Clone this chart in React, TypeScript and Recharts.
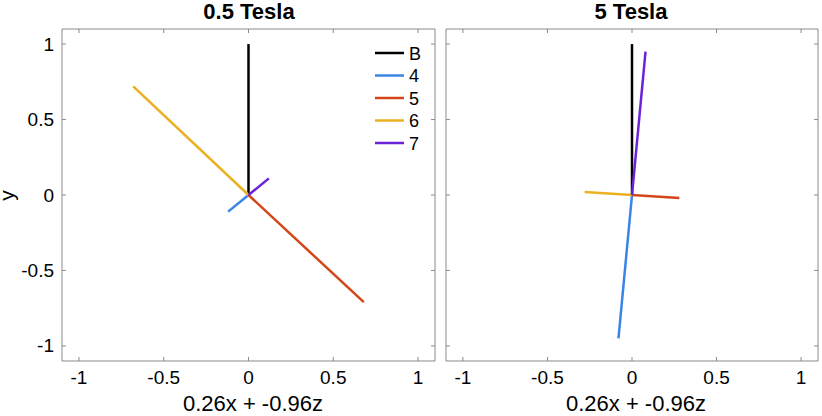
import React from "react";
import { LineChart, Line, XAxis, YAxis, Legend } from "recharts";

// axis ticks and ranges
const axisTicks = [-1, -0.5, 0, 0.5, 1];
const axisDomain: [number, number] = [-1.1, 1.1];

// series (vector end points, every vector starts at the origin)
const seriesNames = ["B", "4", "5", "6", "7"];
const seriesColors = ["#000000", "#3a84e6", "#d4461a", "#ebb120", "#6b22d8"];
const lowFieldX = [0, -0.12, 0.68, -0.68, 0.12];
const lowFieldY = [1, -0.11, -0.71, 0.72, 0.11];
const highFieldX = [0, -0.08, 0.28, -0.28, 0.08];
const highFieldY = [1, -0.95, -0.02, 0.02, 0.95];

const panelTitles = ["0.5 Tesla", "5 Tesla"];
const xLabel = "0.26x + -0.96z";
const yLabel = "y";

const font = '"Liberation Sans", Arial, Helvetica, sans-serif';
const axisColor = "#8a8a8a";
const tickLen = 4;

const buildSeries = (xs: number[], ys: number[]) =>
  seriesNames.map((name, i) => ({
    name,
    color: seriesColors[i],
    data: [
      { x: 0, y: 0 },
      { x: xs[i], y: ys[i] },
    ],
  }));

const BottomTick = (props: any) => {
  const { x, y, payload } = props;
  return (
    <g>
      <line x1={x} x2={x} y1={y} y2={y - tickLen} stroke={axisColor} />
      <text x={x} y={y + 23} textAnchor="middle" fontSize={19} fill="#000">
        {payload.value}
      </text>
    </g>
  );
};

const TopTick = (props: any) => {
  const { x, y } = props;
  return <line x1={x} x2={x} y1={y} y2={y + tickLen} stroke={axisColor} />;
};

const LeftTick = (props: any) => {
  const { x, y, payload, showLabel } = props;
  return (
    <g>
      <line x1={x} x2={x + tickLen} y1={y} y2={y} stroke={axisColor} />
      {showLabel && (
        <text x={x - 8} y={y + 6.5} textAnchor="end" fontSize={19} fill="#000">
          {payload.value}
        </text>
      )}
    </g>
  );
};

const RightTick = (props: any) => {
  const { x, y } = props;
  return <line x1={x} x2={x - tickLen} y1={y} y2={y} stroke={axisColor} />;
};

const LegendBox = () => (
  <svg width={60} height={120}>
    {seriesNames.map((name, i) => (
      <g key={name}>
        <line x1={3} x2={32} y1={13 + i * 22.5} y2={13 + i * 22.5} stroke={seriesColors[i]} strokeWidth={2.5} />
        <text x={37} y={13 + i * 22.5 + 6.5} fontSize={18} fill="#000">
          {name}
        </text>
      </g>
    ))}
  </svg>
);

interface PanelProps {
  xs: number[];
  ys: number[];
  width: number;
  margin: { top: number; right: number; bottom: number; left: number };
  showYLabels: boolean;
  showLegend: boolean;
}

// axes are 1px thick (a 0px axis is not drawn), margins are reduced by 1 to compensate
const Panel: React.FC<PanelProps> = ({ xs, ys, width, margin, showYLabels, showLegend }) => {
  const series = buildSeries(xs, ys);
  const axisLine = { stroke: axisColor, strokeWidth: 1 };
  return (
    <LineChart width={width} height={416} margin={margin}>
      <XAxis
        dataKey="x"
        type="number"
        domain={axisDomain}
        ticks={axisTicks}
        interval={0}
        allowDataOverflow
        height={1}
        tickSize={0}
        tickMargin={0}
        tickLine={false}
        axisLine={axisLine}
        tick={<BottomTick />}
      />
      <XAxis
        xAxisId="top"
        orientation="top"
        dataKey="x"
        type="number"
        domain={axisDomain}
        ticks={axisTicks}
        interval={0}
        allowDataOverflow
        height={1}
        tickSize={0}
        tickMargin={0}
        tickLine={false}
        axisLine={axisLine}
        tick={<TopTick />}
      />
      <YAxis
        dataKey="y"
        type="number"
        domain={axisDomain}
        ticks={axisTicks}
        interval={0}
        allowDataOverflow
        width={1}
        tickSize={0}
        tickMargin={0}
        tickLine={false}
        axisLine={axisLine}
        tick={<LeftTick showLabel={showYLabels} />}
      />
      <YAxis
        yAxisId="right"
        orientation="right"
        dataKey="y"
        type="number"
        domain={axisDomain}
        ticks={axisTicks}
        interval={0}
        allowDataOverflow
        width={1}
        tickSize={0}
        tickMargin={0}
        tickLine={false}
        axisLine={axisLine}
        tick={<RightTick />}
      />
      {showLegend && (
        <Legend
          layout="vertical"
          align="center"
          verticalAlign="middle"
          content={() => <LegendBox />}
          wrapperStyle={{ top: 40, left: 372, width: 60, height: 120 }}
        />
      )}
      {series.map((s) => (
        <Line
          key={s.name}
          name={s.name}
          data={s.data}
          dataKey="y"
          stroke={s.color}
          strokeWidth={2.5}
          dot={false}
          activeDot={false}
          isAnimationActive={false}
        />
      ))}
    </LineChart>
  );
};

export default function App() {
  return (
    <div
      style={{
        position: "absolute",
        left: 0,
        top: 0,
        width: 822,
        height: 416,
        background: "#fff",
        fontFamily: font,
      }}
    >
      <div style={{ position: "absolute", left: 0, top: 0 }}>
        <Panel
          xs={lowFieldX}
          ys={lowFieldY}
          width={440}
          margin={{ top: 28, right: 4, bottom: 54, left: 61 }}
          showYLabels
          showLegend
        />
      </div>
      <div style={{ position: "absolute", left: 440, top: 0 }}>
        <Panel
          xs={highFieldX}
          ys={highFieldY}
          width={382}
          margin={{ top: 28, right: 3, bottom: 54, left: 5 }}
          showYLabels={false}
          showLegend={false}
        />
      </div>
      <svg
        width={822}
        height={416}
        style={{ position: "absolute", left: 0, top: 0, pointerEvents: "none", fontFamily: font }}
      >
        <text x={249} y={19} textAnchor="middle" fontSize={22} fontWeight="bold" fill="#000">
          {panelTitles[0]}
        </text>
        <text x={631} y={19} textAnchor="middle" fontSize={22} fontWeight="bold" fill="#000">
          {panelTitles[1]}
        </text>
        <text x={253} y={411} textAnchor="middle" fontSize={22} fill="#000">
          {xLabel}
        </text>
        <text x={636} y={411} textAnchor="middle" fontSize={22} fill="#000">
          {xLabel}
        </text>
        <text
          x={14}
          y={195.5}
          textAnchor="middle"
          fontSize={21}
          fill="#000"
          transform="rotate(-90, 14, 195.5)"
        >
          {yLabel}
        </text>
      </svg>
    </div>
  );
}
